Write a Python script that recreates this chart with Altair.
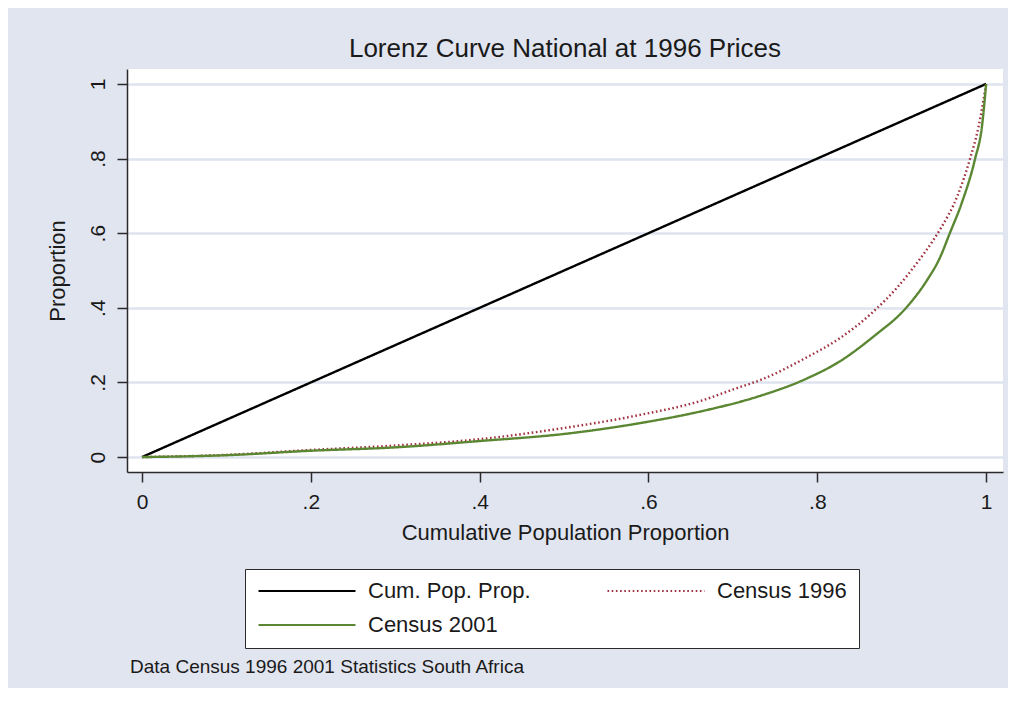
import altair as alt
import pandas as pd

# ---------------- data ----------------
title_text = "Lorenz Curve National at 1996 Prices"
x_title = "Cumulative Population Proportion"
y_title = "Proportion"
note_text = "Data Census 1996 2001 Statistics South Africa"

series_names = ["Cum. Pop. Prop.", "Census 1996", "Census 2001"]
series_colors = ["#000000", "#a0323f", "#5b8733"]

equality_p = [0.0, 1.0]
equality_l = [0.0, 1.0]

census1996_p = [0.0, 0.1, 0.2, 0.3, 0.4, 0.5, 0.59, 0.661, 0.705, 0.732, 0.788,
                0.827, 0.866, 0.894, 0.918, 0.937, 0.946, 0.966, 0.981, 0.991, 1.0]
census1996_l = [0.0, 0.006, 0.019, 0.031, 0.048, 0.078, 0.113, 0.150, 0.185, 0.206, 0.268,
                0.319, 0.389, 0.453, 0.520, 0.580, 0.612, 0.700, 0.800, 0.885, 1.0]

census2001_p = [0.0, 0.1, 0.2, 0.3, 0.4, 0.5, 0.59, 0.669, 0.728, 0.788, 0.827,
                0.866, 0.906, 0.930, 0.945, 0.957, 0.971, 0.987, 0.995, 1.0]
census2001_l = [0.0, 0.005, 0.017, 0.026, 0.043, 0.062, 0.091, 0.126, 0.161, 0.211, 0.257,
                0.322, 0.402, 0.474, 0.533, 0.600, 0.680, 0.800, 0.885, 1.0]

tick_values = [0.0, 0.2, 0.4, 0.6, 0.8, 1.0]
tick_labels = ["0", ".2", ".4", ".6", ".8", "1"]

# ---------------- table ----------------
rows = []
for name, ps, ls in [(series_names[0], equality_p, equality_l),
                     (series_names[1], census1996_p, census1996_l),
                     (series_names[2], census2001_p, census2001_l)]:
    for i, (p, l) in enumerate(zip(ps, ls)):
        rows.append({"series": name, "p": p, "L": l, "order": i})
df = pd.DataFrame(rows)

label_expr = "".join(
    f"abs(datum.value - {v}) < 0.001 ? '{t}' : " for v, t in zip(tick_values, tick_labels)
) + "''"

FONT = "Liberation Sans"
TXT = "#1a1a1a"

legend = alt.Legend(
    title=None, orient="none", legendX=118, legendY=500, columns=2,
    direction="horizontal", symbolType="stroke", symbolSize=9409, symbolStrokeWidth=2.2,
    labelFont=FONT, labelFontSize=22, labelColor=TXT, labelOffset=11, labelLimit=400,
    columnPadding=75, rowPadding=12, padding=12, clipHeight=20,
    fillColor="white", strokeColor="#2a2a2a",
)

lines = alt.Chart(df).mark_line(clip=True, interpolate="monotone", strokeWidth=2.4).encode(
    x=alt.X("p:Q",
            scale=alt.Scale(domain=[-0.0178, 1.020], nice=False, zero=False),
            axis=alt.Axis(values=tick_values, labelExpr=label_expr, title=x_title,
                          grid=False, tickSize=10, labelPadding=9, titlePadding=10)),
    y=alt.Y("L:Q",
            scale=alt.Scale(domain=[-0.040, 1.040], nice=False, zero=False),
            axis=alt.Axis(values=tick_values, labelExpr=label_expr, title=y_title,
                          grid=True, tickSize=10, labelAngle=270, labelAlign="center",
                          labelBaseline="bottom", labelPadding=9, titlePadding=18)),
    color=alt.Color("series:N",
                    scale=alt.Scale(domain=series_names, range=series_colors),
                    legend=legend),
    strokeDash=alt.StrokeDash("series:N",
                              scale=alt.Scale(domain=series_names,
                                              range=[[1, 0], [1.6, 2.6], [1, 0]]),
                              legend=legend),
    order="order:Q",
)

note = alt.Chart(pd.DataFrame({"note": [note_text]})).mark_text(
    align="left", baseline="middle", fontSize=19, font=FONT, color=TXT
).encode(x=alt.value(3), y=alt.value(598), text="note:N")

chart = alt.layer(lines, note).properties(
    width=876,
    height=403,
    padding={"left": 119, "top": 61, "right": 5, "bottom": 216},
    autosize=alt.AutoSizeParams(type="none"),
    background="#e1e5ef",
    title=alt.TitleParams(title_text, anchor="middle", font=FONT, fontSize=26,
                          fontWeight="normal", color=TXT, offset=7),
).configure_view(
    fill="white", stroke=None
).configure_axis(
    domainColor="#2a2a2a", domainWidth=1.5, tickColor="#2a2a2a", tickWidth=1.5,
    gridColor="#dde3ef", gridWidth=2.5,
    labelFont=FONT, labelFontSize=21, labelColor=TXT,
    titleFont=FONT, titleFontSize=22, titleFontWeight="normal", titleColor=TXT,
)

chart.save("out.html", embed_options={"renderer": "svg", "actions": False})
